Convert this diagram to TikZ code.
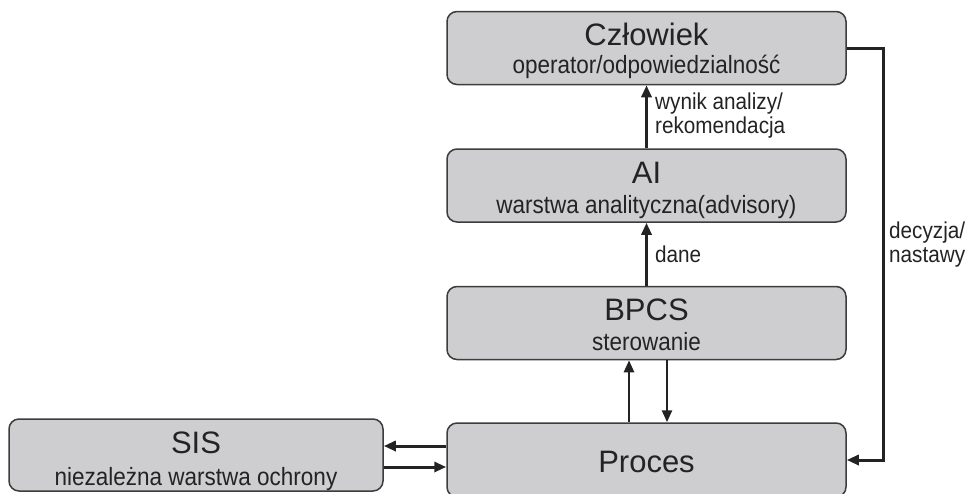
\documentclass[tikz,border=0pt]{standalone}
\usepackage{fontspec}
\setmainfont{Liberation Sans}
\newfontfamily\narrowsans[FakeStretch=0.9]{Liberation Sans}
\usepackage{tikz}
\usetikzlibrary{arrows.meta, positioning}
\definecolor{boxfill}{RGB}{206,206,208}
\definecolor{boxline}{RGB}{60,60,60}
\definecolor{inkdark}{RGB}{35,35,35}
\newcommand{\titlefont}{\fontsize{31}{36}\selectfont}
\newcommand{\subfont}{\narrowsans\fontsize{25}{29}\selectfont}
\newcommand{\lblfont}{\narrowsans\fontsize{23}{24}\selectfont}

\begin{document}
\begin{tikzpicture}[
    x=1pt, y=-1pt,
    layer/.style={
        rectangle, draw=boxline, line width=1.5pt, rounded corners=10pt,
        fill=boxfill, inner sep=0pt,
        minimum width=399pt, minimum height=73pt
    },
    title/.style={font=\titlefont, text=inkdark, anchor=base, inner sep=0pt},
    sub/.style={font=\subfont, text=inkdark, anchor=base, inner sep=0pt},
    lbl/.style={font=\lblfont, text=inkdark, anchor=west, align=left, inner sep=0pt},
    arr/.style={-{Triangle[length=12pt, width=10pt]}, line width=3pt, inkdark}
]
\useasboundingbox (0,0) rectangle (979,493);

% Czlowiek
\node[layer] (czlowiek) at (646.5,48) {};
\node[title] (czlowiekT) at (646.5,45) {Człowiek};
\node[sub] (czlowiekS) at (646.5,73) {operator/odpowiedzialność};

% AI
\node[layer] (ai) at (646.5,185.5) {};
\node[title] (aiT) at (646.5,183) {AI};
\node[sub] (aiS) at (646.5,213) {warstwa analityczna(advisory)};

% BPCS
\node[layer] (bpcs) at (646.5,323) {};
\node[title] (bpcsT) at (646.5,320) {BPCS};
\node[sub] (bpcsS) at (646.5,350) {sterowanie};

% Proces
\node[layer, minimum height=74pt] (proces) at (646.5,460) {};
\node[title] (procesT) at (646.5,472) {Proces};

% SIS
\node[layer, minimum width=374pt, minimum height=72pt] (sis) at (196,455) {};
\node[title] (sisT) at (196,453) {SIS};
\node[sub] (sisS) at (196,485) {niezależna warstwa ochrony};

% Arrows
\draw[arr] (ai.north) -- (czlowiek.south);
\node[lbl] (wynik) at (655,116) {wynik analizy/\\rekomendacja};
\draw[arr] (bpcs.north) -- (ai.south);
\node[lbl] (dane) at (655,254) {dane};
\draw[arr, line width=2.5pt] (proces.north -| 629,0) -- (bpcs.south -| 629,0);
\draw[arr, line width=2.5pt] (bpcs.south -| 667,0) -- (proces.north -| 667,0);
\draw[arr] (proces.west |- 0,446) -- (sis.east |- 0,446);
\draw[arr] (sis.east |- 0,467) -- (proces.west |- 0,467);

% feedback
\coordinate (fb) at (883,48);
\draw[arr, rounded corners=0pt] (czlowiek.east) -- (fb) |- (proces.east);
\node[lbl] (decyzja) at (889,245) {decyzja/\\nastawy};

\end{tikzpicture}
\end{document}
